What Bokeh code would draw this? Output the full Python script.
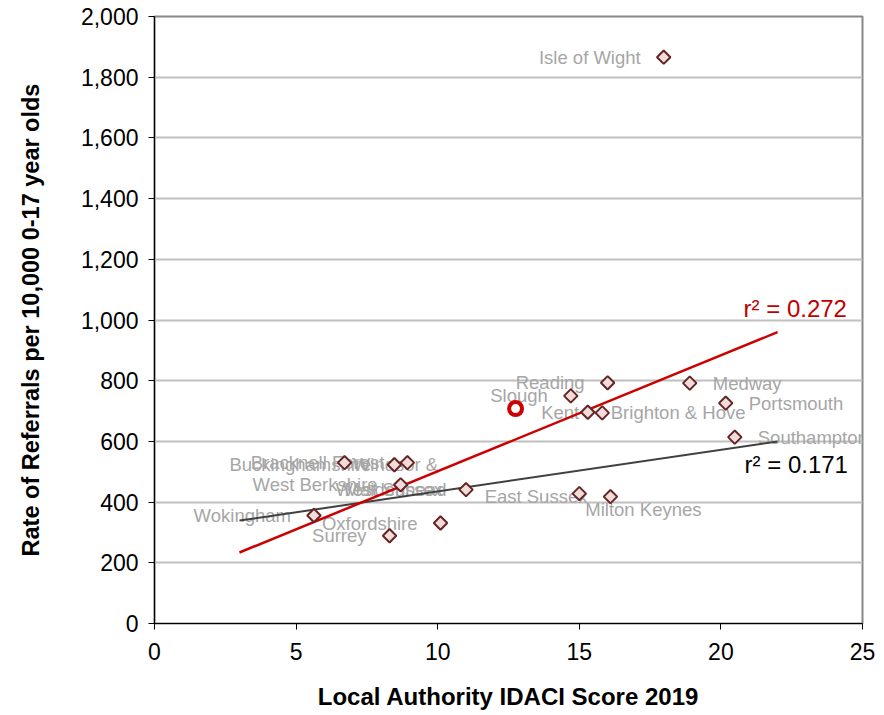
from bokeh.plotting import figure
from bokeh.models import ColumnDataSource, NumeralTickFormatter, FixedTicker, Range1d, LabelSet
from bokeh.core.properties import value
from bokeh.embed import file_html
from bokeh.resources import INLINE
import math

# ---- data ----
names = ["Isle of Wight", "Reading", "Medway", "Slough", "Kent", "Brighton & Hove",
         "Portsmouth", "Southampton", "East Sussex", "Milton Keynes", "Bracknell Forest",
         "Buckinghamshire", "Windsor &\nMaidenhead", "West Berkshire", "West Sussex",
         "Wokingham", "Oxfordshire", "Surrey"]
idaci = [17.98, 16.0, 18.9, 14.7, 15.81, 15.3, 20.17, 20.49, 16.1, 15.0, 8.93,
         8.47, 6.71, 8.69, 11.0, 5.63, 10.1, 8.3]
rate = [1866, 793, 792, 750, 694, 696, 726, 614, 418, 428, 530,
        523, 530, 457, 441, 356, 331, 289]

highlight_idaci = [12.75]
highlight_rate = [708]

trend_x = [3, 22]
trend_red_y = [234, 960]
trend_black_y = [339, 600]
r2_red = "r² = 0.272"
r2_black = "r² = 0.171"

x_ticks = [0, 5, 10, 15, 20, 25]
y_ticks = [0, 200, 400, 600, 800, 1000, 1200, 1400, 1600, 1800, 2000]

# ---- label placement (style, not data) ----
placement = ["L", "L", "R", "L", "L", "R", "R", "R", "L", "MK", "L",
             "L", "WM", "L", "L", "L", "L", "L"]

FONT = "Liberation Sans"

p = figure(width=880, height=712, x_range=Range1d(0, 25), y_range=Range1d(0, 2000),
           output_backend="svg", toolbar_location=None,
           min_border_left=154, min_border_right=18, min_border_top=16, min_border_bottom=88,
           background_fill_color="white", border_fill_color="white")

p.outline_line_color = "#888888"
p.outline_line_width = 2

p.xgrid.visible = False
p.ygrid.grid_line_color = "#C0C0C0"
p.ygrid.grid_line_width = 2
p.ygrid.ticker = FixedTicker(ticks=y_ticks)

p.xaxis.ticker = FixedTicker(ticks=x_ticks)
p.yaxis.ticker = FixedTicker(ticks=y_ticks)
p.yaxis.formatter = NumeralTickFormatter(format="0,0")

for ax in (p.xaxis[0], p.yaxis[0]):
    ax.axis_line_color = "black"
    ax.axis_line_width = 1.2
    ax.major_tick_line_color = "black"
    ax.major_tick_in = 0
    ax.major_tick_out = 6
    ax.minor_tick_line_color = None
    ax.major_label_text_font = FONT
    ax.major_label_text_font_size = "23px"
    ax.major_label_text_color = "black"
    ax.axis_label_text_font = FONT
    ax.axis_label_text_font_style = "bold"
    ax.axis_label_text_color = "black"

p.xaxis.axis_label_text_font_size = "24px"
p.yaxis.axis_label_text_font_size = "23.5px"
p.xaxis.major_label_standoff = 13
p.yaxis.major_label_standoff = 10
p.xaxis.axis_label = "Local Authority IDACI Score 2019"
p.yaxis.axis_label = "Rate of Referrals per 10,000 0-17 year olds"
p.xaxis.axis_label_standoff = 20
p.yaxis.axis_label_standoff = 34

# ---- labels (drawn first, below marks) ----
groups = {
    "L": dict(align="right", dx=-23, dy=0),
    "MK": dict(align="left", dx=6, dy=16),
    "WM": dict(align="center", dx=51, dy=14),
}
for key, st in groups.items():
    idx = [i for i, k in enumerate(placement) if k == key]
    src = ColumnDataSource(dict(x=[idaci[i] for i in idx], y=[rate[i] for i in idx],
                                t=[names[i] for i in idx]))
    p.text(x="x", y="y", text="t", source=src, x_offset=st["dx"], y_offset=st["dy"],
           text_align=st["align"], text_baseline="middle", text_font=value(FONT),
           text_font_size="18.5px", text_color="#A6A6A6", text_line_height=1.2)

# right-hand labels as annotations so they may run past the plot border
idx_r = [i for i, k in enumerate(placement) if k == "R"]
src_r = ColumnDataSource(dict(x=[idaci[i] for i in idx_r], y=[rate[i] for i in idx_r],
                              t=[names[i] for i in idx_r]))
p.add_layout(LabelSet(x="x", y="y", text="t", source=src_r, x_offset=23, y_offset=0,
                      text_align="left", text_baseline="middle", text_font=value(FONT),
                      text_font_size=value("18.5px"), text_color="#A6A6A6", level="underlay"))

# ---- trend lines ----
p.line(trend_x, trend_black_y, line_color="#404040", line_width=2)
p.line(trend_x, trend_red_y, line_color="#CC0000", line_width=2.5)

p.text(x=[trend_x[1]], y=[trend_red_y[1]], text=[r2_red], x_offset=-34, y_offset=-24,
       text_align="left", text_baseline="middle", text_font=value(FONT),
       text_font_size="24px", text_color="#C00000")
p.text(x=[trend_x[1]], y=[trend_black_y[1]], text=[r2_black], x_offset=-33, y_offset=23,
       text_align="left", text_baseline="middle", text_font=value(FONT),
       text_font_size="24px", text_color="black")

# ---- markers ----
p.scatter(idaci, rate, marker="square", size=9.5, angle=math.pi / 4,
          fill_color="#F2DCDB", line_color="#632523", line_width=2)
p.scatter(highlight_idaci, highlight_rate, marker="circle", size=13,
          fill_color="white", line_color="#CC0000", line_width=4)

open("out.html", "w").write(file_html(p, INLINE))
